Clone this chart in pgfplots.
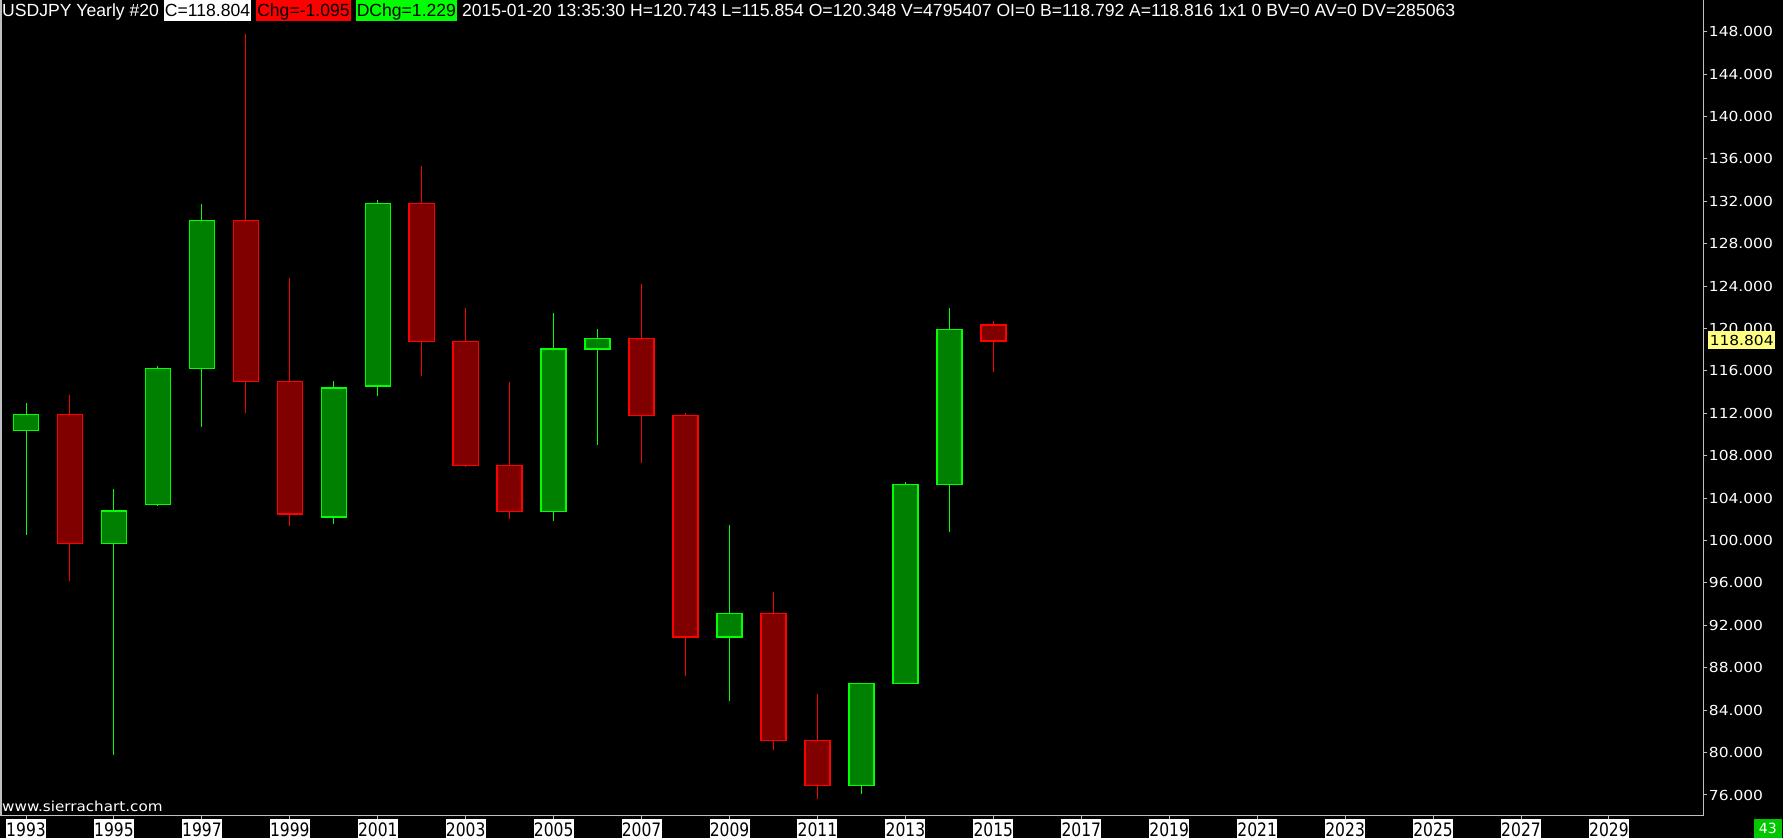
\documentclass[border=0pt]{standalone}
\usepackage{pgfplots}
\pgfplotsset{compat=1.18}
\usepackage{fontspec}
\setmainfont{Liberation Sans}
\newfontfamily\dvs[FakeStretch=1.12]{DejaVu Sans}
\newfontfamily\dvsc[FakeStretch=0.84]{DejaVu Sans}
\newfontfamily\dvsw[FakeStretch=1.1]{DejaVu Sans}
\newfontfamily\dvsn{DejaVu Sans}
\definecolor{upline}{RGB}{0,255,0}
\definecolor{upfill}{RGB}{0,128,0}
\definecolor{dnline}{RGB}{255,0,0}
\definecolor{dnfill}{RGB}{128,0,0}
\definecolor{axgray}{RGB}{192,192,192}
\definecolor{lyellow}{RGB}{255,255,128}
\definecolor{boxgreen}{RGB}{0,200,0}
\newcommand\candle[8]{%
  \addplot[#1wick] coordinates {(#2,#6) (#2,#7)};
  \addplot[#1body] coordinates {(#3,#5) (#4,#5) (#4,#8) (#3,#8)} -- cycle;
}
\newcommand\hb[2]{\colorbox{#1}{\rule[-3pt]{0pt}{17pt}\textcolor{black}{#2}}}
\begin{document}
\begin{tikzpicture}
\useasboundingbox (0,0) rectangle (1783pt,838pt);
\fill[black] (0,0) rectangle (1783pt,838pt);
\begin{axis}[
  at={(1pt,22.3pt)}, anchor=south west, scale only axis,
  width=1702.7pt, height=815.7pt,
  xmin=1992.431, xmax=2031.156, ymin=74.047, ymax=150.99,
  axis x line=bottom, axis y line=right,
  axis line style={-, draw=axgray, line width=1pt},
  tick align=outside, major tick length=3.5pt,
  tick style={draw=axgray, line width=1pt},
  xtick={1993,1995,...,2029}, ytick={76,80,...,148},
  scaled ticks=false,
  /pgf/number format/assume math mode=true,
  xticklabel style={font=\dvsc\fontsize{18.5}{18.5}\selectfont, text=black, fill=white,
    inner sep=0pt, minimum width=40pt, minimum height=20pt, anchor=north,
    /pgf/number format/1000 sep={}},
  yticklabel style={font=\dvs\fontsize{13.8}{13.8}\selectfont, text=white,
    anchor=west, inner sep=0pt, xshift=1.5pt,
    /pgf/number format/fixed, /pgf/number format/fixed zerofill,
    /pgf/number format/precision=3, /pgf/number format/1000 sep={}},
  clip=false,
  upwick/.style={draw=upline, line width=1pt},
  dnwick/.style={draw=dnline, line width=1pt},
  upbody/.style={draw=upline, fill=upfill, line width=1.5pt, line join=miter},
  dnbody/.style={draw=dnline, fill=dnfill, line width=1.5pt, line join=miter},
]
\candle{up}{1993}{1992.715}{1993.285}{110.4}{113.0}{100.5}{111.9}
\candle{dn}{1994}{1993.715}{1994.285}{111.9}{113.7}{96.2}{99.7}
\candle{up}{1995}{1994.715}{1995.285}{99.7}{104.9}{79.8}{102.8}
\candle{up}{1996}{1995.715}{1996.285}{103.4}{116.5}{103.3}{116.25}
\candle{up}{1997}{1996.715}{1997.285}{116.25}{131.75}{110.75}{130.2}
\candle{dn}{1998}{1997.715}{1998.285}{130.2}{147.8}{112.0}{115.0}
\candle{dn}{1999}{1998.715}{1999.285}{115.0}{124.8}{101.4}{102.5}
\candle{up}{2000}{1999.715}{2000.285}{102.2}{115.05}{101.6}{114.4}
\candle{up}{2001}{2000.715}{2001.285}{114.56}{132.1}{113.67}{131.8}
\candle{dn}{2002}{2001.715}{2002.285}{131.8}{135.3}{115.56}{118.8}
\candle{dn}{2003}{2002.715}{2003.285}{118.8}{121.9}{106.9}{107.1}
\candle{dn}{2004}{2003.715}{2004.285}{107.1}{114.96}{102.0}{102.76}
\candle{up}{2005}{2004.715}{2005.285}{102.76}{121.47}{101.8}{118.05}
\candle{up}{2006}{2005.715}{2006.285}{118.05}{119.96}{109.05}{119.08}
\candle{dn}{2007}{2006.715}{2007.285}{119.08}{124.2}{107.35}{111.8}
\candle{dn}{2008}{2007.715}{2008.285}{111.8}{112.0}{87.2}{90.88}
\candle{up}{2009}{2008.715}{2009.285}{90.88}{101.5}{84.9}{93.14}
\candle{dn}{2010}{2009.715}{2010.285}{93.14}{95.16}{80.27}{81.16}
\candle{dn}{2011}{2010.715}{2011.285}{81.16}{85.5}{75.65}{76.91}
\candle{up}{2012}{2011.715}{2012.285}{76.91}{86.6}{76.12}{86.5}
\candle{up}{2013}{2012.715}{2013.285}{86.5}{105.5}{86.5}{105.3}
\candle{up}{2014}{2013.715}{2014.285}{105.3}{121.9}{100.8}{119.9}
\candle{dn}{2015}{2014.715}{2015.285}{120.348}{120.743}{115.854}{118.804}
\draw[axgray, line width=1.5pt] (rel axis cs:0,0) -- (rel axis cs:0,1);
\node[fill=lyellow, text=black, anchor=west, inner xsep=1.5pt, inner ysep=0pt,
  minimum height=17.6pt, font=\dvs\fontsize{13.8}{13.8}\selectfont]
  at ([xshift=4.3pt]axis cs:2031.156,118.9) {118.804};
\end{axis}
\node[anchor=north west, inner sep=0pt, text=white] at (2pt,838pt)
  {\resizebox{1453pt}{!}{\fontsize{16}{16}\selectfont\setlength{\fboxsep}{1pt}%
  USDJPY Yearly \#20 \hb{white}{C=118.804} \hb{red}{Chg=-1.095} \hb{upline}{DChg=1.229} 2015-01-20 13:35:30 H=120.743 L=115.854 O=120.348 V=4795407 OI=0 B=118.792 A=118.816 1x1 0 BV=0 AV=0 DV=285063}};
\node[anchor=base west, inner sep=0pt, text=white, font=\dvsw\fontsize{13.8}{13.8}\selectfont]
  at (2pt,27pt) {www.sierrachart.com};
\node[fill=boxgreen, text=white, inner sep=0pt, minimum width=27.7pt, minimum height=19pt,
  font=\dvsn\fontsize{14}{14}\selectfont] at (1767.85pt,9.5pt) {43};
\end{tikzpicture}
\end{document}
